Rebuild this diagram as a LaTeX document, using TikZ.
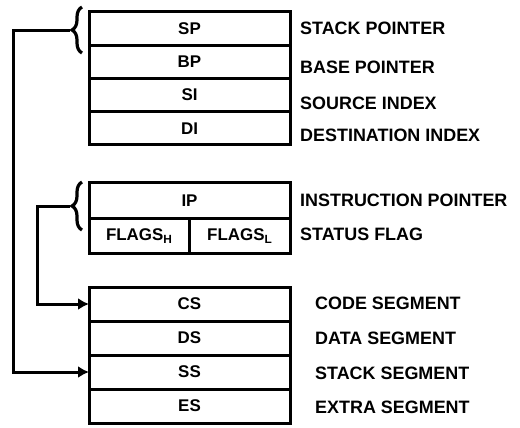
\documentclass[tikz,border=0pt]{standalone}
\usepackage{fontspec}
\setmainfont{Liberation Sans}
\usetikzlibrary{positioning,arrows.meta,decorations.pathreplacing}

\tikzset{
  reg/.style={draw, line width=3bp, minimum width=201bp, minimum height=33.25bp,
    inner sep=0pt, outer sep=0pt, font=\fontsize{17}{20}\selectfont\bfseries},
  half/.style={reg, minimum width=100.5bp},
  regname/.style={anchor=west, inner sep=0pt, font=\fontsize{18}{20}\selectfont\bfseries},
  link/.style={line width=3bp, line join=miter},
  curly/.style={line width=3.2bp, decorate, decoration={brace, amplitude=10bp}},
}

\begin{document}
\begin{tikzpicture}[>={Latex[length=11bp,width=12bp]}, x=1bp, y=-1bp]
  \useasboundingbox (0,0) rectangle (520,427);
  %%
    % Node: general registers
  \node[reg] (sp) at (189.5,28.6) {SP};
  \node[reg, below=0pt of sp] (bp) {BP};
  \node[reg, below=0pt of bp] (si) {SI};
  \node[reg, below=0pt of si] (di) {DI};
    % Node: ip and flags
  \node[reg, minimum height=35.5bp] (ip) at (189.5,200.7) {IP};
  \node[half, minimum height=35.5bp, anchor=north west] (flagsh) at (ip.south west) {FLAGS\textsubscript{H}};
  \node[half, minimum height=35.5bp, anchor=north east] (flagsl) at (ip.south east) {FLAGS\textsubscript{L}};
    % Node: segment registers
  \node[reg, minimum height=34bp] (cs) at (189.5,304) {CS};
  \node[reg, minimum height=34bp, below=0pt of cs] (ds) {DS};
  \node[reg, minimum height=34bp, below=0pt of ds] (ss) {SS};
  \node[reg, minimum height=34bp, below=0pt of ss] (es) {ES};
  %%
    % Node: names
  \node[regname] (spname) at (300,28) {STACK POINTER};
  \node[regname] (bpname) at (300,67) {BASE POINTER};
  \node[regname] (siname) at (300,103) {SOURCE INDEX};
  \node[regname] (diname) at (300,135) {DESTINATION INDEX};
  \node[regname] (ipname) at (300,200) {INSTRUCTION POINTER};
  \node[regname] (flagsname) at (300,234) {STATUS FLAG};
  \node[regname] (csname) at (315,303) {CODE SEGMENT};
  \node[regname] (dsname) at (315,338) {DATA SEGMENT};
  \node[regname] (ssname) at (315,373) {STACK SEGMENT};
  \node[regname] (esname) at (315,407) {EXTRA SEGMENT};
  %%
    % Braces
  \draw[curly] (82,53) -- (82,7);
  \coordinate (spbrace) at (70,30);
  \draw[curly] (82,230) -- (82,182);
  \coordinate (ipbrace) at (70,206);
  \coordinate (outer) at (13,30);
  \coordinate (inner) at (37,206);
    % Edge: sp -> ss
  \draw[link, ->] (spbrace) -- (outer) |- (ss.west);
    % Edge: ip -> cs
  \draw[link, ->] (ipbrace) -- (inner) |- (cs.west);
  %
\end{tikzpicture}
\end{document}
